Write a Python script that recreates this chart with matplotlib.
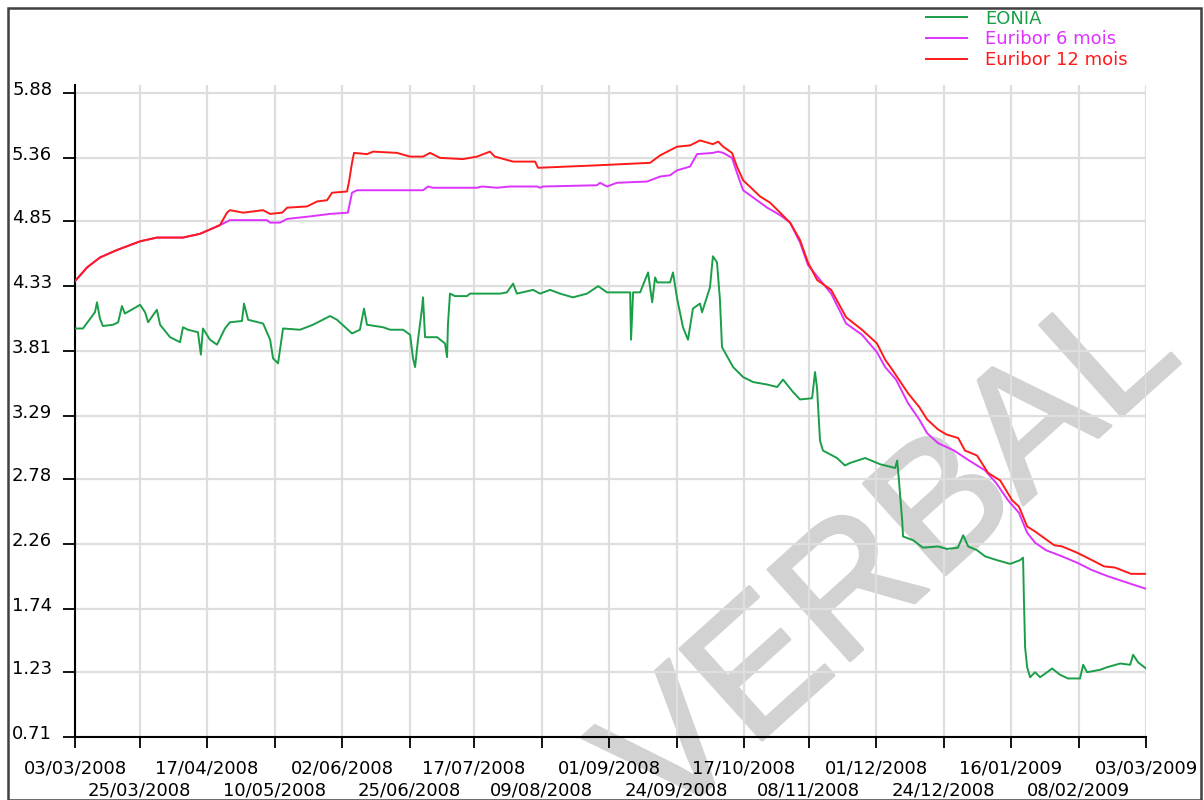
import numpy as np
import pandas as pd
import matplotlib
matplotlib.use("Agg")
import matplotlib.pyplot as plt
import matplotlib.patheffects as pe
from matplotlib.patches import Rectangle
from matplotlib.transforms import ScaledTranslation

# --- data (x = days since 03/03/2008, y = rate in %) ---
tick_labels = ["03/03/2008", "25/03/2008", "17/04/2008", "10/05/2008", "02/06/2008",
               "25/06/2008", "17/07/2008", "09/08/2008", "01/09/2008", "24/09/2008",
               "17/10/2008", "08/11/2008", "01/12/2008", "24/12/2008", "16/01/2009",
               "08/02/2009", "03/03/2009"]
y_ticks = [0.71, 1.23, 1.74, 2.26, 2.78, 3.29, 3.81, 4.33, 4.85, 5.36, 5.88]

eonia_day = [0, 2.7, 6.8, 7.5, 8.5, 9.5, 13.0, 14.7, 16.0, 17.0, 22.2, 23.9, 24.9, 27.9,
             29.0, 32.4, 35.8, 36.8, 38.5, 41.9, 42.9, 43.6, 46.0, 48.4, 51.1, 52.8,
             56.9, 57.6, 59.0, 64.1, 66.5, 67.5, 69.2, 70.9, 76.7, 81.1, 86.9, 89.3,
             94.4, 97.1, 98.5, 99.5, 105.0, 107.4, 111.8, 114.2, 115.2, 115.9, 116.9,
             118.3, 118.6, 119.3, 123.4, 126.1, 126.8, 127.1, 127.8, 129.5, 133.6,
             134.6, 141.4, 144.9, 147.2, 149.3, 150.6, 156.1, 158.5, 161.9, 165.3,
             169.7, 174.5, 178.3, 181.3, 189.2, 189.5, 190.2, 192.6, 195.3, 196.7,
             197.7, 198.4, 202.8, 203.8, 205.2, 207.2, 208.9, 210.6, 213.0, 213.7,
             216.4, 217.4, 218.8, 219.8, 220.5, 224.3, 227.7, 231.1, 235.9, 239.3,
             241.3, 244.7, 247.1, 251.2, 252.2, 252.9, 253.9, 254.9, 259.7, 262.4,
             264.1, 269.3, 274.4, 279.5, 280.2, 280.8, 281.9, 282.2, 285.6, 289.0,
             294.1, 297.2, 300.9, 302.7, 304.4, 307.4, 310.2, 314.2, 318.7, 322.1,
             323.1, 323.4, 323.8, 324.5, 325.5, 327.2, 328.9, 331.3, 333.0, 335.7,
             338.4, 342.5, 343.6, 344.9, 349.4, 351.7, 356.2, 359.6, 360.6, 362.3,
             365.0]
eonia_rate = [3.99, 3.99, 4.12, 4.20, 4.07, 4.01, 4.02, 4.04, 4.17, 4.11, 4.18, 4.12, 4.04,
              4.14, 4.02, 3.92, 3.88, 4.00, 3.98, 3.96, 3.78, 3.99, 3.90, 3.86, 3.99,
              4.04, 4.05, 4.19, 4.06, 4.03, 3.90, 3.75, 3.71, 3.99, 3.98, 4.02, 4.09,
              4.06, 3.95, 3.98, 4.15, 4.02, 4.00, 3.98, 3.98, 3.94, 3.75, 3.68, 3.90,
              4.16, 4.24, 3.92, 3.92, 3.87, 3.76, 4.02, 4.27, 4.25, 4.25, 4.27, 4.27,
              4.27, 4.28, 4.35, 4.27, 4.30, 4.27, 4.30, 4.27, 4.24, 4.27, 4.33, 4.28,
              4.28, 3.90, 4.28, 4.28, 4.44, 4.20, 4.40, 4.36, 4.36, 4.44, 4.23, 4.00,
              3.90, 4.15, 4.19, 4.12, 4.32, 4.57, 4.52, 4.22, 3.84, 3.68, 3.60, 3.56,
              3.54, 3.52, 3.58, 3.48, 3.42, 3.43, 3.64, 3.51, 3.09, 3.01, 2.95, 2.89,
              2.91, 2.95, 2.90, 2.87, 2.93, 2.77, 2.45, 2.32, 2.29, 2.23, 2.24, 2.22,
              2.23, 2.33, 2.24, 2.21, 2.16, 2.13, 2.10, 2.13, 2.15, 1.81, 1.43, 1.27,
              1.19, 1.23, 1.19, 1.23, 1.26, 1.21, 1.18, 1.18, 1.29, 1.23, 1.25, 1.27,
              1.30, 1.29, 1.37, 1.31, 1.26]

eur6_day = [0, 4.1, 8.5, 14.3, 22.2, 27.9, 36.8, 42.6, 49.4, 52.8, 65.4, 66.5, 69.9, 72.3,
            80.1, 86.9, 93.0, 94.4, 96.1, 118.6, 120.3, 122.0, 137.0, 138.7, 143.8,
            148.3, 157.5, 158.5, 159.5, 177.9, 178.9, 181.3, 184.7, 195.0, 199.4,
            202.8, 205.2, 209.6, 212.0, 217.4, 219.2, 220.9, 223.9, 225.6, 227.7,
            232.4, 235.9, 240.3, 243.7, 247.1, 249.8, 257.7, 262.8, 268.2, 273.3,
            276.1, 279.8, 283.9, 287.7, 290.4, 294.1, 299.6, 304.7, 310.2, 313.9,
            318.0, 321.7, 324.5, 327.2, 330.9, 336.4, 341.5, 346.6, 352.1, 357.2,
            363.7, 365.0]
eur6_rate = [4.37, 4.48, 4.56, 4.62, 4.69, 4.72, 4.72, 4.75, 4.82, 4.86, 4.86, 4.84, 4.84,
             4.87, 4.89, 4.91, 4.92, 5.08, 5.10, 5.10, 5.13, 5.12, 5.12, 5.13, 5.12,
             5.13, 5.13, 5.12, 5.13, 5.14, 5.16, 5.13, 5.16, 5.17, 5.21, 5.22, 5.26,
             5.29, 5.39, 5.40, 5.41, 5.40, 5.36, 5.24, 5.10, 5.02, 4.96, 4.90, 4.84,
             4.68, 4.50, 4.27, 4.03, 3.94, 3.80, 3.68, 3.58, 3.39, 3.26, 3.15, 3.07,
             3.01, 2.93, 2.85, 2.75, 2.61, 2.51, 2.35, 2.27, 2.21, 2.16, 2.11, 2.05,
             2.00, 1.96, 1.91, 1.90]

eur12_day = [0, 4.1, 8.5, 14.3, 22.2, 27.9, 36.8, 42.6, 49.4, 51.8, 52.8, 57.3, 64.1, 66.5,
             70.6, 72.3, 79.1, 82.5, 85.9, 87.6, 92.7, 93.4, 94.4, 95.1, 99.5, 101.6,
             109.7, 114.2, 118.6, 121.0, 124.4, 132.2, 137.0, 141.4, 143.1, 149.3,
             156.8, 157.8, 167.7, 177.9, 186.8, 196.0, 199.4, 205.2, 209.6, 213.0,
             217.4, 219.2, 220.9, 223.9, 225.6, 227.7, 233.5, 236.9, 240.3, 243.7,
             247.1, 249.8, 252.9, 257.7, 262.8, 268.2, 273.3, 276.1, 278.5, 283.9,
             287.7, 290.4, 294.1, 296.9, 301.0, 303.3, 307.4, 311.2, 315.3, 319.4,
             321.7, 324.5, 327.2, 333.7, 336.4, 341.5, 346.6, 350.7, 354.5, 359.9,
             363.7, 365.0]
eur12_rate = [4.37, 4.48, 4.56, 4.62, 4.69, 4.72, 4.72, 4.75, 4.82, 4.92, 4.94, 4.92, 4.94,
              4.91, 4.92, 4.96, 4.97, 5.01, 5.02, 5.08, 5.09, 5.17, 5.32, 5.40, 5.39,
              5.41, 5.40, 5.37, 5.37, 5.40, 5.36, 5.35, 5.37, 5.41, 5.37, 5.33, 5.33,
              5.28, 5.29, 5.30, 5.31, 5.32, 5.38, 5.45, 5.46, 5.50, 5.47, 5.49, 5.45,
              5.40, 5.29, 5.18, 5.05, 5.00, 4.92, 4.84, 4.70, 4.52, 4.38, 4.30, 4.08,
              3.98, 3.87, 3.74, 3.66, 3.47, 3.36, 3.26, 3.18, 3.14, 3.11, 3.01, 2.97,
              2.83, 2.77, 2.61, 2.56, 2.40, 2.36, 2.25, 2.24, 2.19, 2.13, 2.08, 2.07,
              2.02, 2.02, 2.02]

# tick positions in days from the label dates
tick_dates = pd.to_datetime(tick_labels, dayfirst=True)
tick_days = np.array((tick_dates - tick_dates[0]).days, dtype=float)

plt.rcParams['font.family'] = 'DejaVu Sans'

fig = plt.figure(figsize=(12.04, 8.0), dpi=100)
ax = fig.add_axes([75 / 1204, 1 - 737 / 800, (1146 - 75) / 1204, (737 - 85) / 800])

ax.plot(eur12_day, eur12_rate, color='#ff1a1a', lw=1.4, label='Euribor 12 mois', zorder=3)
ax.plot(eur6_day, eur6_rate, color='#dd33ff', lw=1.4, label='Euribor 6 mois', zorder=2.9)
ax.plot(eonia_day, eonia_rate, color='#1a9e48', lw=1.4, label='EONIA', zorder=3.1)

ax.set_xlim(0, 365)
ax.set_ylim(0.71, 5.945)
ax.set_yticks(y_ticks)
ax.set_yticklabels(['%.2f' % v for v in y_ticks])
ax.set_xticks(tick_days[::2])
ax.set_xticklabels(tick_labels[::2])
ax.set_xticks(tick_days[1::2], minor=True)
ax.set_xticklabels(tick_labels[1::2], minor=True)

ax.grid(True, which='both', color='#dedede', lw=1.6)
ax.set_axisbelow('line')
for s in ['top', 'right']:
    ax.spines[s].set_visible(False)
for s in ['left', 'bottom']:
    ax.spines[s].set_color('black')
    ax.spines[s].set_linewidth(1.5)

ax.tick_params(axis='y', length=8.5, width=1.3, pad=8, labelsize=13)
ax.tick_params(axis='x', which='major', length=8, width=1.3, pad=8, labelsize=13)
ax.tick_params(axis='x', which='minor', length=8, width=1.3, pad=24, labelsize=13)

# y labels sit a little above their ticks in the original
shift = ScaledTranslation(0, 5 / 100, fig.dpi_scale_trans)
for lab in ax.get_yticklabels():
    lab.set_transform(lab.get_transform() + shift)

# legend at the top right
handles, labels = ax.get_legend_handles_labels()
order = [2, 1, 0]
ax.legend([handles[i] for i in order], [labels[i] for i in order],
          loc='upper left', bbox_to_anchor=(913 / 1204, 1 + 3 / 800),
          bbox_transform=fig.transFigure, frameon=False, fontsize=13,
          labelcolor='linecolor', handlelength=2.3, handletextpad=1.0,
          labelspacing=0.15, borderpad=0.2)

# watermark
ax.text(893 / 1204, 1 - 560 / 800, 'VERBAL', transform=fig.transFigure,
        fontsize=128, rotation=42, color='#d2d2d2', ha='center',
        va='center', family='Liberation Sans', zorder=1, clip_on=False,
        path_effects=[pe.withStroke(linewidth=2.5, foreground='#d2d2d2')])

# outer frame
fig.patches.append(Rectangle((8 / 1204, 0.5 / 800), (1201 - 8) / 1204, (799 - 7.5) / 800,
                             transform=fig.transFigure, fill=False,
                             edgecolor='#404040', lw=1.8))

fig.savefig('out.png', dpi=100)
